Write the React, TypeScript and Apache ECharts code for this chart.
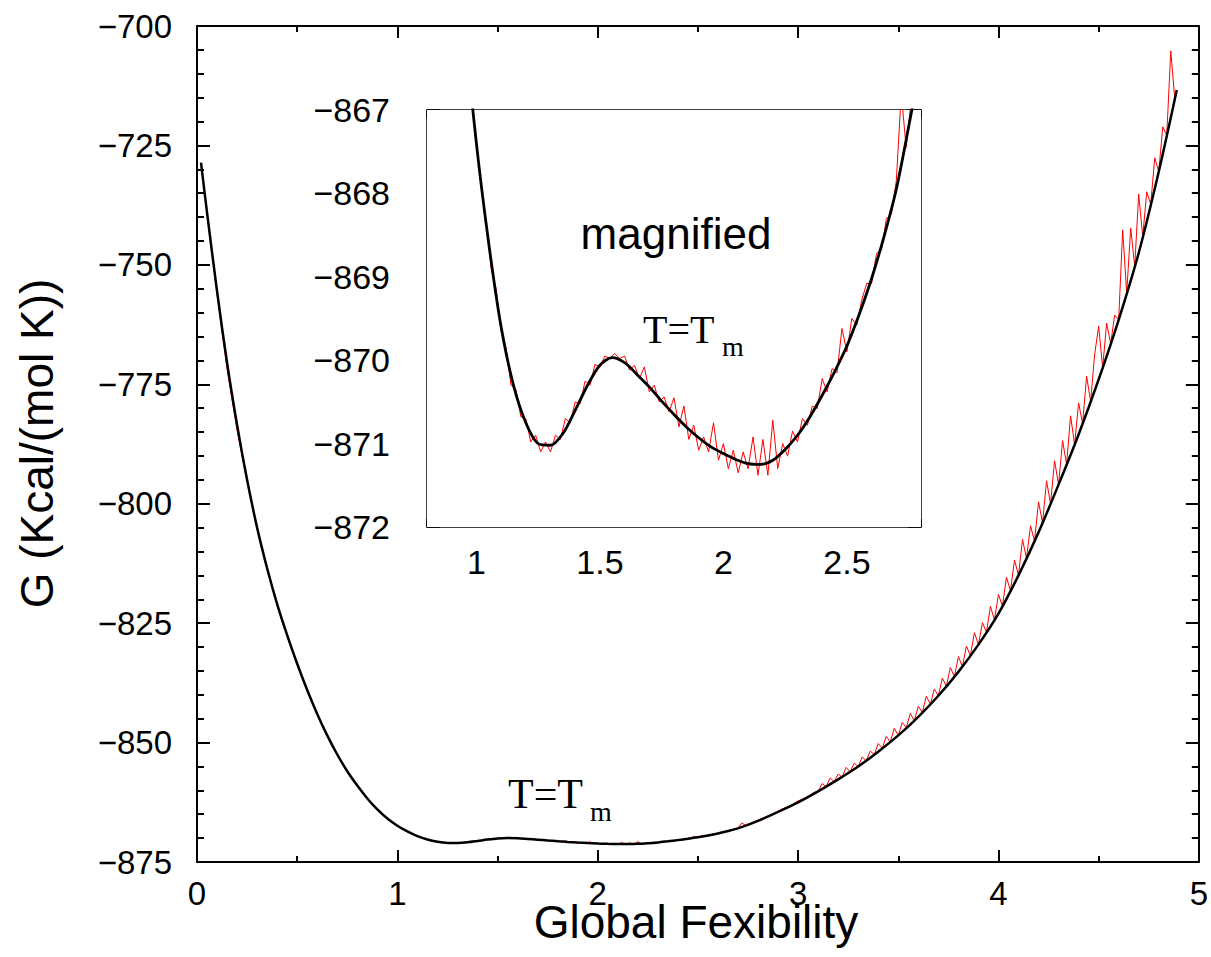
import React, { useEffect, useRef } from "react";
import * as echarts from "echarts";

// Smooth fitted curve (black)
const blackCurve: number[][] = [
  [0.02, -728.6], [0.05, -739.0], [0.10, -755.5], [0.15, -770.5], [0.20, -783.5],
  [0.25, -795.0], [0.30, -805.0], [0.35, -813.5], [0.40, -821.0], [0.45, -827.5],
  [0.50, -833.5], [0.55, -839.0], [0.60, -844.0], [0.65, -848.5], [0.70, -852.5],
  [0.75, -856.0], [0.80, -859.0], [0.85, -861.7], [0.90, -864.0], [0.95, -865.9],
  [1.00, -867.4], [1.05, -868.6], [1.10, -869.6], [1.15, -870.3], [1.20, -870.75],
  [1.25, -871.0], [1.30, -871.02], [1.35, -870.88], [1.40, -870.6], [1.45, -870.3],
  [1.50, -870.06], [1.55, -869.97], [1.60, -870.03], [1.65, -870.17], [1.70, -870.32],
  [1.75, -870.49], [1.80, -870.65], [1.85, -870.8], [1.90, -870.93], [1.95, -871.04],
  [2.00, -871.12], [2.05, -871.19], [2.10, -871.24], [2.15, -871.25], [2.20, -871.2],
  [2.25, -871.07], [2.30, -870.9], [2.35, -870.68], [2.40, -870.42], [2.45, -870.14],
  [2.50, -869.83], [2.55, -869.45], [2.60, -869.02], [2.65, -868.52], [2.70, -867.95],
  [2.75, -867.2], [2.80, -866.4], [2.90, -864.5], [3.00, -862.5], [3.10, -860.2],
  [3.20, -857.7], [3.30, -855.0], [3.40, -851.9], [3.50, -848.5], [3.60, -844.6],
  [3.70, -840.2], [3.80, -835.2], [3.90, -829.5], [4.00, -823.0], [4.10, -815.0],
  [4.20, -806.0], [4.30, -796.0], [4.40, -785.5], [4.50, -774.0], [4.60, -761.5],
  [4.70, -747.5], [4.80, -730.5], [4.89, -713.4],
];

// Raw simulated data (red) — low flexibility side
const redLeft: number[][] = [
  [0.02, -728.9], [0.05, -739.4], [0.10, -756.0], [0.15, -771.8], [0.20, -784.6],
  [0.25, -795.4], [0.30, -805.3], [0.35, -813.8], [0.40, -821.2], [0.45, -827.8],
  [0.50, -833.6], [0.55, -839.2], [0.60, -844.1], [0.65, -848.7], [0.70, -852.6],
  [0.75, -856.1], [0.80, -859.1], [0.85, -861.8],
];

// Raw data (red) — region shown magnified
const redMiddle: number[][] = [
  [0.90, -864.05], [0.92, -864.75], [0.94, -865.6], [0.96, -866.15], [0.98, -866.85],
  [1.00, -867.35], [1.02, -867.95], [1.04, -868.35], [1.06, -868.9], [1.08, -869.15],
  [1.10, -869.65], [1.12, -869.85], [1.14, -870.3], [1.16, -870.35], [1.18, -870.68],
  [1.20, -870.7], [1.22, -870.98], [1.24, -870.9], [1.26, -871.1], [1.28, -870.98],
  [1.30, -871.1], [1.32, -870.9], [1.34, -870.95], [1.36, -870.7], [1.38, -870.75],
  [1.40, -870.5], [1.42, -870.52], [1.44, -870.25], [1.46, -870.3], [1.48, -870.05],
  [1.50, -870.08], [1.52, -869.95], [1.54, -869.98], [1.56, -869.92], [1.58, -869.98],
  [1.60, -869.95], [1.62, -870.12], [1.64, -870.06], [1.66, -870.22], [1.68, -870.08],
  [1.70, -870.38], [1.72, -870.3], [1.74, -870.5], [1.76, -870.44], [1.78, -870.62],
  [1.80, -870.45], [1.82, -870.8], [1.84, -870.55], [1.86, -870.95], [1.88, -870.78],
  [1.90, -871.08], [1.92, -870.92], [1.94, -871.1], [1.96, -870.75], [1.98, -871.2],
  [2.00, -871.0], [2.02, -871.3], [2.04, -871.08], [2.06, -871.35], [2.08, -871.1],
  [2.10, -871.3], [2.12, -870.92], [2.14, -871.38], [2.16, -870.95], [2.18, -871.38],
  [2.20, -870.72], [2.22, -871.3], [2.24, -871.0], [2.26, -871.15], [2.28, -870.85],
  [2.30, -870.98], [2.32, -870.7], [2.34, -870.78], [2.36, -870.55], [2.38, -870.58],
  [2.40, -870.22], [2.42, -870.38], [2.44, -870.1], [2.46, -870.15], [2.48, -869.62],
  [2.50, -869.9], [2.52, -869.5], [2.54, -869.58], [2.56, -869.28], [2.58, -869.08],
  [2.60, -869.08], [2.62, -868.72], [2.64, -868.68], [2.66, -868.3], [2.68, -868.25],
  [2.70, -867.85], [2.72, -866.8], [2.74, -867.45], [2.76, -866.9], [2.78, -866.6],
  [2.80, -866.3],
];

// Raw data (red) — high flexibility side with spikes
const redRight: number[][] = [
  [2.84, -865.5], [2.88, -864.9], [2.92, -863.9], [2.96, -863.3], [3.00, -862.2],
  [3.04, -861.6], [3.08, -860.4],
  [3.10, -860.2], [3.12, -858.6], [3.14, -859.2], [3.16, -857.4], [3.18, -858.2],
  [3.20, -856.6], [3.22, -857.2], [3.24, -855.2], [3.26, -856.1], [3.28, -854.3],
  [3.30, -855.0], [3.32, -853.0], [3.34, -853.8], [3.36, -851.8], [3.38, -852.5],
  [3.40, -850.2], [3.42, -851.2], [3.44, -848.7], [3.46, -849.9], [3.48, -847.0],
  [3.50, -848.5], [3.52, -845.8], [3.54, -846.9], [3.56, -843.9], [3.58, -845.4],
  [3.60, -842.4], [3.62, -843.7], [3.64, -840.3], [3.66, -842.0], [3.68, -838.8],
  [3.70, -840.2], [3.72, -836.5], [3.74, -838.2], [3.76, -834.3], [3.78, -836.2],
  [3.80, -832.0], [3.82, -834.1], [3.84, -829.8], [3.86, -831.8], [3.88, -827.0],
  [3.90, -829.5], [3.92, -824.9], [3.94, -826.9], [3.96, -821.5], [3.98, -824.3],
  [4.00, -819.0], [4.02, -821.4], [4.04, -815.4], [4.06, -818.2], [4.08, -811.8],
  [4.10, -815.0], [4.12, -807.5], [4.14, -811.4], [4.16, -804.6], [4.18, -807.8],
  [4.20, -799.6], [4.22, -804.0], [4.24, -795.2], [4.26, -800.0], [4.28, -791.0],
  [4.30, -796.0], [4.32, -786.8], [4.34, -791.8], [4.36, -781.6], [4.38, -787.6],
  [4.40, -778.9], [4.42, -783.2], [4.44, -773.3], [4.46, -778.6], [4.48, -768.8],
  [4.50, -762.8], [4.52, -771.5], [4.54, -762.2], [4.56, -766.5], [4.58, -760.5],
  [4.60, -761.5], [4.62, -742.7], [4.64, -755.9], [4.66, -742.3], [4.68, -750.3],
  [4.70, -735.2], [4.72, -744.1], [4.74, -734.7], [4.76, -737.3], [4.78, -727.6],
  [4.80, -730.5], [4.82, -721.1], [4.84, -722.9], [4.86, -705.2], [4.88, -715.3],
];

const mainXTicks = [0, 1, 2, 3, 4, 5];
const insetXMajor = [1, 1.5, 2, 2.5];

const SANS = "'Liberation Sans', Arial, Helvetica, sans-serif";
const SERIF = "'Liberation Serif', 'Times New Roman', Times, serif";

const minusFmt = (v: number) => (v < 0 ? "\u2212" + Math.abs(v) : String(v));

export default function App() {
  const ref = useRef<HTMLDivElement>(null);
  useEffect(() => {
    if (!ref.current) return;
    const chart = echarts.init(ref.current, null, { renderer: "svg" });
    const redAll = [...redLeft, ...redMiddle, ...redRight];

    const mainLine = { show: true, lineStyle: { color: "#000", width: 2 } };
    const insetLine = { show: true, lineStyle: { color: "#000", width: 1.5 } };

    const mainX = (pos: "bottom" | "top", labels: boolean) => ({
      type: "value",
      gridIndex: 0,
      position: pos,
      min: mainXTicks[0],
      max: mainXTicks[mainXTicks.length - 1],
      interval: 1,
      axisLine: { ...mainLine, onZero: false },
      axisTick: { show: true, inside: true, length: 12, lineStyle: { color: "#000", width: 2 } },
      minorTick: { show: true, splitNumber: 2, length: 6, lineStyle: { color: "#000", width: 2 } },
      splitLine: { show: false },
      minorSplitLine: { show: false },
      axisLabel: {
        show: labels,
        fontSize: 33,
        lineHeight: 24,
        color: "#000",
        fontFamily: SANS,
        margin: 19,
        showMinLabel: true,
        showMaxLabel: true,
      },
    });
    const mainY = (pos: "left" | "right", labels: boolean) => ({
      type: "value",
      gridIndex: 0,
      position: pos,
      min: -875,
      max: -700,
      interval: 25,
      axisLine: { ...mainLine, onZero: false },
      axisTick: { show: true, inside: true, length: 13, lineStyle: { color: "#000", width: 2 } },
      minorTick: { show: true, splitNumber: 5, length: 7, lineStyle: { color: "#000", width: 2 } },
      splitLine: { show: false },
      minorSplitLine: { show: false },
      axisLabel: {
        show: labels,
        fontSize: 33,
        color: "#000",
        fontFamily: SANS,
        margin: 25,
        formatter: minusFmt,
        showMinLabel: true,
        showMaxLabel: true,
      },
    });
    const insetXMajorAxis = (pos: "bottom" | "top", labels: boolean) => ({
      type: "value",
      gridIndex: 1,
      position: pos,
      min: 0.8,
      max: 2.8,
      axisLine: { ...insetLine, onZero: false },
      axisTick: {
        show: true,
        inside: true,
        length: 18,
        customValues: insetXMajor,
        lineStyle: { color: "#000", width: 1.5 },
      },
      splitLine: { show: false },
      axisLabel: {
        show: labels,
        customValues: insetXMajor,
        fontSize: 34,
        color: "#000",
        fontFamily: SANS,
        margin: 18,
      },
    });
    const insetXMinorAxis = (pos: "bottom" | "top") => ({
      type: "value",
      gridIndex: 1,
      position: pos,
      min: 0.8,
      max: 2.8,
      interval: 0.1,
      axisLine: { show: false, onZero: false },
      axisTick: { show: true, inside: true, length: 8, lineStyle: { color: "#000", width: 1.5 } },
      splitLine: { show: false },
      axisLabel: { show: false },
    });
    const insetY = (pos: "left" | "right", labels: boolean) => ({
      type: "value",
      gridIndex: 1,
      position: pos,
      min: -872,
      max: -867,
      interval: 1,
      axisLine: { ...insetLine, onZero: false },
      axisTick: { show: true, inside: true, length: 13, lineStyle: { color: "#000", width: 1.5 } },
      minorTick: { show: true, splitNumber: 2, length: 8, lineStyle: { color: "#000", width: 1.5 } },
      splitLine: { show: false },
      minorSplitLine: { show: false },
      axisLabel: {
        show: labels,
        fontSize: 34,
        color: "#000",
        fontFamily: SANS,
        margin: 37,
        formatter: minusFmt,
        showMinLabel: true,
        showMaxLabel: true,
      },
    });

    chart.setOption({
      animation: false,
      backgroundColor: "#fff",
      grid: [
        { left: 197, top: 26, width: 1003, height: 836, containLabel: false },
        {
          left: 427,
          top: 110,
          width: 494,
          height: 417,
          show: true,
          backgroundColor: "#fff",
          borderWidth: 0,
          containLabel: false,
          z: 3,
        },
      ],
      xAxis: [
        mainX("bottom", true),
        mainX("top", false),
        insetXMajorAxis("bottom", true),
        insetXMinorAxis("bottom"),
        insetXMajorAxis("top", false),
        insetXMinorAxis("top"),
      ],
      yAxis: [mainY("left", true), mainY("right", false), insetY("left", true), insetY("right", false)],
      series: [
        {
          type: "line",
          xAxisIndex: 0,
          yAxisIndex: 0,
          data: redAll,
          showSymbol: false,
          lineStyle: { color: "#ff0000", width: 1 },
          z: 2,
          silent: true,
        },
        {
          type: "line",
          xAxisIndex: 0,
          yAxisIndex: 0,
          data: blackCurve,
          smooth: 0.3,
          showSymbol: false,
          lineStyle: { color: "#000", width: 2.5 },
          z: 3,
          silent: true,
        },
        {
          type: "line",
          xAxisIndex: 2,
          yAxisIndex: 2,
          data: redAll,
          showSymbol: false,
          lineStyle: { color: "#ff0000", width: 1 },
          z: 4,
          clip: true,
          silent: true,
        },
        {
          type: "line",
          xAxisIndex: 2,
          yAxisIndex: 2,
          data: blackCurve,
          smooth: 0.3,
          showSymbol: false,
          lineStyle: { color: "#000", width: 2.8 },
          z: 5,
          clip: true,
          silent: true,
        },
      ],
      graphic: [
        {
          type: "text",
          x: 676,
          y: 233,
          z: 100,
          style: { text: "magnified", fontSize: 44, fontFamily: SANS, fill: "#000", align: "center", verticalAlign: "middle" },
        },
        {
          type: "text",
          x: 643,
          y: 329.5,
          z: 100,
          style: { text: "T=T", fontSize: 40, fontFamily: SERIF, fill: "#000", align: "left", verticalAlign: "middle" },
        },
        {
          type: "text",
          x: 722,
          y: 346.5,
          z: 100,
          style: { text: "m", fontSize: 28, fontFamily: SERIF, fill: "#000", align: "left", verticalAlign: "middle" },
        },
        {
          type: "text",
          x: 508,
          y: 794,
          z: 100,
          style: { text: "T=T", fontSize: 42, fontFamily: SERIF, fill: "#000", align: "left", verticalAlign: "middle" },
        },
        {
          type: "text",
          x: 590,
          y: 811.5,
          z: 100,
          style: { text: "m", fontSize: 28, fontFamily: SERIF, fill: "#000", align: "left", verticalAlign: "middle" },
        },
        {
          type: "text",
          x: 696,
          y: 922,
          z: 100,
          style: { text: "Global Fexibility", fontSize: 46, lineHeight: 28, fontFamily: SANS, fill: "#000", align: "center", verticalAlign: "middle" },
        },
        {
          type: "text",
          x: 37,
          y: 443.5,
          rotation: Math.PI / 2,
          z: 100,
          style: { text: "G (Kcal/(mol K))", fontSize: 46, fontFamily: SANS, fill: "#000", align: "center", verticalAlign: "middle" },
        },
      ],
    });
    return () => chart.dispose();
  }, []);
  return (
    <div
      ref={ref}
      style={{ position: "absolute", left: 0, top: 0, width: 1211, height: 957 }}
    />
  );
}
